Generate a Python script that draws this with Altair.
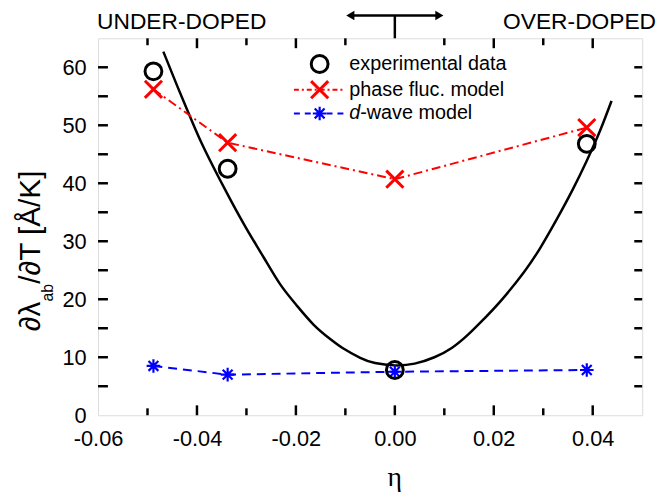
import altair as alt
import pandas as pd

# ---------------- data ----------------
eta_points = [-0.0488, -0.0338, 0.0, 0.0388]
exp_vals = [59.3, 42.5, 7.8, 46.8]
phase_vals = [56.2, 47.0, 40.7, 49.6]
dwave_vals = [8.5, 7.0, 7.5, 7.8]

fit_eta = [-0.0468, -0.0440, -0.0418, -0.0390, -0.0356, -0.0330, -0.0300, -0.0265,
           -0.0232, -0.0200, -0.0164, -0.0130, -0.0104, -0.0070, -0.0040, 0.0000,
           0.0040, 0.0080, 0.0115, 0.0148, 0.0180, 0.0216, 0.0262, 0.0295, 0.0328,
           0.0360, 0.0388, 0.0415, 0.0438]
fit_vals = [62.7, 56.8, 52.3, 46.8, 41.0, 36.8, 32.2, 27.2,
            22.6, 19.1, 15.6, 13.1, 11.5, 9.9, 9.0, 8.6,
            8.9, 10.0, 11.6, 13.9, 16.6, 19.9, 24.8, 29.0, 33.9,
            39.0, 43.9, 49.1, 54.2]

x_labels = [-0.06, -0.04, -0.02, 0.00, 0.02, 0.04]
x_major_ticks = [-0.04, -0.02, 0.02, 0.04]
x_minor_ticks = [-0.05, -0.03, -0.01, 0.01, 0.03]
y_labels = [0, 10, 20, 30, 40, 50, 60]
y_ticks = [5, 10, 15, 20, 25, 30, 35, 40, 45, 50, 55, 60]

legend_labels = ["experimental data", "phase fluc. model", "-wave model"]
top_left_text = "UNDER-DOPED"
top_right_text = "OVER-DOPED"

# ---------------- layout ----------------
W, H = 550, 381
FONT = "Liberation Sans"
RED = "#ff0000"
BLUE = "#0000ff"
CROSS = "M-1,-1L1,1M1,-1L-1,1"
STAR = "M-1,0L1,0M0,-1L0,1M-0.72,-0.72L0.72,0.72M-0.72,0.72L0.72,-0.72"

xscale = alt.Scale(domain=[-0.06, 0.05], nice=False, zero=False)
yscale = alt.Scale(domain=[0, 65], nice=False, zero=False)
xaxis = alt.Axis(values=x_labels, labelExpr="replace(format(datum.value, '.2f'), '\u2212', '-')",
                 ticks=False, domain=False, grid=False, labelFontSize=22, labelFont=FONT,
                 labelColor="black", labelPadding=14, title=None, labelFlush=False,
                 labelOverlap=False)
yaxis = alt.Axis(values=y_labels, ticks=False, domain=False, grid=False, labelFontSize=22,
                 labelFont=FONT, labelColor="black", labelPadding=12, title=None,
                 labelOverlap=False)


def X(f):
    return alt.X(f, type="quantitative", scale=xscale, axis=xaxis)


def Y(f):
    return alt.Y(f, type="quantitative", scale=yscale, axis=yaxis)


pts = pd.DataFrame({"eta": eta_points, "exp": exp_vals, "phase": phase_vals, "dwave": dwave_vals})
fit = pd.DataFrame({"eta": fit_eta, "v": fit_vals})
one = pd.DataFrame({"a": [0]})

layers = []

# fit curve
layers.append(alt.Chart(fit).mark_line(color="black", strokeWidth=2.5, interpolate="natural")
              .encode(x=X("eta"), y=Y("v")))
# model lines
layers.append(alt.Chart(pts).mark_line(color=RED, strokeWidth=2, strokeDash=[9, 4, 2, 4])
              .encode(x=X("eta"), y=Y("phase")))
layers.append(alt.Chart(pts).mark_line(color=BLUE, strokeWidth=2, strokeDash=[9, 6])
              .encode(x=X("eta"), y=Y("dwave")))
# markers
layers.append(alt.Chart(pts).mark_point(shape=CROSS, size=300, strokeWidth=3, color=RED, filled=False, opacity=1)
              .encode(x=X("eta"), y=Y("phase")))
layers.append(alt.Chart(pts).mark_point(shape=STAR, size=190, strokeWidth=2.2, color=BLUE, filled=False, opacity=1)
              .encode(x=X("eta"), y=Y("dwave")))
layers.append(alt.Chart(pts).mark_point(shape="circle", size=290, strokeWidth=3, color="black", filled=False, opacity=1)
              .encode(x=X("eta"), y=Y("exp")))

# inward ticks
xt_major = pd.DataFrame({"t": x_major_ticks})
xt_minor = pd.DataFrame({"t": x_minor_ticks})
yt = pd.DataFrame({"t": y_ticks})
tk = dict(color="black", strokeWidth=2.5)
layers.append(alt.Chart(xt_major).mark_rule(**tk).encode(x=X("t"), y=alt.value(H), y2=alt.value(H - 10)))
layers.append(alt.Chart(xt_minor).mark_rule(**tk).encode(x=X("t"), y=alt.value(H), y2=alt.value(H - 7)))
layers.append(alt.Chart(xt_major).mark_rule(**tk).encode(x=X("t"), y=alt.value(0), y2=alt.value(10)))
layers.append(alt.Chart(xt_minor).mark_rule(**tk).encode(x=X("t"), y=alt.value(0), y2=alt.value(7)))
layers.append(alt.Chart(pd.DataFrame({"t": [0.0]})).mark_rule(**tk).encode(x=X("t"), y=alt.value(H), y2=alt.value(H - 10)))
layers.append(alt.Chart(yt).mark_rule(**tk).encode(y=Y("t"), x=alt.value(0), x2=alt.value(10)))
layers.append(alt.Chart(yt).mark_rule(**tk).encode(y=Y("t"), x=alt.value(W), x2=alt.value(W - 8)))

# doping arrow at eta = 0
layers.append(alt.Chart(pd.DataFrame({"t": [0.0]})).mark_rule(color="black", strokeWidth=2.5)
              .encode(x=X("t"), y=alt.value(0), y2=alt.value(-23)))
layers.append(alt.Chart(one).mark_rule(color="black", strokeWidth=2.5)
              .encode(x=alt.value(256), x2=alt.value(344), y=alt.value(-23)))
layers.append(alt.Chart(one).mark_point(shape="triangle-left", size=90, filled=True, color="black", opacity=1)
              .encode(x=alt.value(255), y=alt.value(-23)))
layers.append(alt.Chart(one).mark_point(shape="triangle-right", size=90, filled=True, color="black", opacity=1)
              .encode(x=alt.value(345), y=alt.value(-23)))

# top texts
layers.append(alt.Chart(one).mark_text(text=top_left_text, font=FONT, fontSize=23, align="left", baseline="middle", color="black")
              .encode(x=alt.value(-1), y=alt.value(-16)))
layers.append(alt.Chart(one).mark_text(text=top_right_text, font=FONT, fontSize=23, align="right", baseline="middle", color="black")
              .encode(x=alt.value(564), y=alt.value(-16)))

# axis titles
layers.append(alt.Chart(one).mark_text(text="\u03b7", font="Liberation Serif", fontSize=28, align="center", baseline="alphabetic", color="black")
              .encode(x=alt.value(300), y=alt.value(453)))
ttl = dict(font=FONT, angle=270, align="left", baseline="alphabetic", color="black")
layers.append(alt.Chart(one).mark_text(text="\u2202\u03bb", fontSize=30, **ttl)
              .encode(x=alt.value(-59), y=alt.value(296)))
layers.append(alt.Chart(one).mark_text(text="ab", fontSize=16, **ttl)
              .encode(x=alt.value(-46), y=alt.value(266)))
layers.append(alt.Chart(one).mark_text(text="/\u2202T [\u00c5/K]", fontSize=30, **ttl)
              .encode(x=alt.value(-59), y=alt.value(248)))

# legend
lx_sym, lx_l0, lx_l1, lx_txt = 224, 198, 249, 254
rows = [26, 52, 76]
layers.append(alt.Chart(one).mark_point(shape="circle", size=290, strokeWidth=3, color="black", filled=False, opacity=1)
              .encode(x=alt.value(lx_sym), y=alt.value(rows[0])))
layers.append(alt.Chart(one).mark_rule(color=RED, strokeWidth=2, strokeDash=[5, 3, 2, 3])
              .encode(x=alt.value(lx_l0), x2=alt.value(lx_l1), y=alt.value(rows[1])))
layers.append(alt.Chart(one).mark_point(shape=CROSS, size=300, strokeWidth=3, color=RED, filled=False, opacity=1)
              .encode(x=alt.value(lx_sym), y=alt.value(rows[1])))
layers.append(alt.Chart(one).mark_rule(color=BLUE, strokeWidth=2, strokeDash=[6, 5])
              .encode(x=alt.value(lx_l0), x2=alt.value(lx_l1), y=alt.value(rows[2])))
layers.append(alt.Chart(one).mark_point(shape=STAR, size=190, strokeWidth=2.2, color=BLUE, filled=False, opacity=1)
              .encode(x=alt.value(lx_sym), y=alt.value(rows[2])))
lt = dict(font=FONT, fontSize=20, align="left", baseline="middle", color="black")
layers.append(alt.Chart(one).mark_text(text=legend_labels[0], **lt).encode(x=alt.value(lx_txt), y=alt.value(rows[0])))
layers.append(alt.Chart(one).mark_text(text=legend_labels[1], **lt).encode(x=alt.value(lx_txt), y=alt.value(rows[1])))
layers.append(alt.Chart(one).mark_text(text="d", fontStyle="italic", **lt).encode(x=alt.value(lx_txt), y=alt.value(rows[2])))
layers.append(alt.Chart(one).mark_text(text=legend_labels[2], **lt).encode(x=alt.value(lx_txt + 11), y=alt.value(rows[2])))

chart = alt.layer(*layers).properties(
    width=W, height=H,
    autosize=alt.AutoSizeParams(type="none"),
    padding={"left": 91, "top": 28, "right": 17, "bottom": 78},
).configure_view(stroke="black", strokeWidth=3).configure(background="white")

chart.save("out.html", embed_options={"renderer": "svg", "actions": False})
